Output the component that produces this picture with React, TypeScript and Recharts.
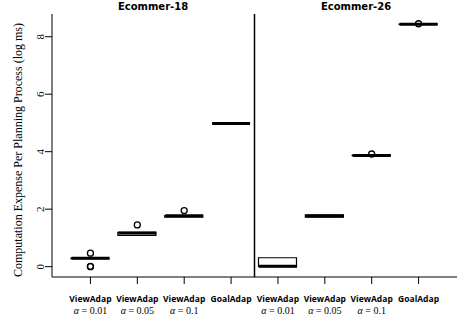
import { Bar, ComposedChart, ReferenceLine, Scatter, XAxis, YAxis } from 'recharts';

const categories = ['v18_001', 'v18_005', 'v18_01', 'g18', 'v26_001', 'v26_005', 'v26_01', 'g26'];
const methodLabels = ['ViewAdap', 'ViewAdap', 'ViewAdap', 'GoalAdap', 'ViewAdap', 'ViewAdap', 'ViewAdap', 'GoalAdap'];
const alphaLabels = ['0.01', '0.05', '0.1', '', '0.01', '0.05', '0.1', ''];
const panelTitles = ['Ecommer-18', 'Ecommer-26'];

// box stats (log ms)
const q1 = [0.28, 1.09, 1.72, 4.98, 0.0, 1.72, 3.86, 8.43];
const median = [0.29, 1.17, 1.77, 4.98, 0.01, 1.76, 3.87, 8.43];
const q3 = [0.3, 1.19, 1.78, 4.98, 0.31, 1.8, 3.88, 8.44];

// outliers, up to three per box (null = none)
const outlierA = [0.47, 1.45, 1.95, null, null, null, 3.92, 8.45];
const outlierB = [0.0, null, null, null, null, null, null, null];
const outlierC = [0.01, null, null, null, null, null, null, null];

const yTicks = [0, 2, 4, 6, 8];
const yLabel = 'Computation Expense Per Planning Process (log ms)';

const rows = categories.map((cat, i) => ({
  cat,
  box: [q1[i], q3[i]],
  med: median[i],
  oa: outlierA[i],
  ob: outlierB[i],
  oc: outlierC[i],
}));

const XTick = (props: any) => {
  const { x, y, payload } = props;
  const i = categories.indexOf(payload.value);
  return (
    <g transform={`translate(${x},${y})`}>
      <text y={16} textAnchor="middle" fontFamily="Open Sans" fontWeight="bold" fontSize={8.5} fill="#000">
        {methodLabels[i]}
      </text>
      {alphaLabels[i] && (
        <text y={28} textAnchor="middle" fontFamily="Liberation Serif" fontSize={10} fill="#000">
          <tspan fontStyle="italic">α</tspan> = {alphaLabels[i]}
        </text>
      )}
    </g>
  );
};

const YTick = (props: any) => {
  const { x, y, payload } = props;
  return (
    <text transform={`translate(${x},${y}) rotate(-90)`} textAnchor="middle" fontFamily="Liberation Serif" fontSize={11} fill="#000">
      {payload.value}
    </text>
  );
};

const MedianLine = (props: any) => (
  <line x1={props.cx - 19} x2={props.cx + 19} y1={props.cy} y2={props.cy} stroke="#000" strokeWidth={3} />
);

const Outlier = (props: any) => {
  const v = props.payload ? props.payload[props.field] : null;
  if (v == null || !Number.isFinite(props.cy)) return <g />;
  return <circle cx={props.cx} cy={props.cy} r={3} fill="none" stroke="#000" strokeWidth={1.3} />;
};

export default function App() {
  return (
    <div style={{ position: 'absolute', left: 0, top: 0, width: 470, height: 321, background: '#fff' }}>
      <ComposedChart width={470} height={321} data={rows} margin={{ top: 14, right: 13, bottom: 0, left: 0 }}>
        <XAxis
          dataKey="cat"
          interval={0}
          height={44}
          padding={{ left: 15, right: 15 }}
          tickSize={7}
          tickMargin={2}
          tickLine={{ stroke: '#000' }}
          axisLine={{ stroke: '#000' }}
          tick={<XTick />}
        />
        <XAxis xAxisId="top" orientation="top" dataKey="cat" height={0} tick={false} tickLine={false} axisLine={{ stroke: '#000' }} />
        <YAxis
          domain={[-0.36, 8.79]}
          ticks={yTicks}
          allowDataOverflow
          width={52}
          tickSize={7}
          tickMargin={1}
          tickLine={{ stroke: '#000' }}
          axisLine={{ stroke: '#000' }}
          tick={<YTick />}
        />
        <YAxis yAxisId="right" orientation="right" domain={[-0.36, 8.79]} width={0} tick={false} tickLine={false} axisLine={{ stroke: '#000' }} />
        <ReferenceLine x="g18" position="end" stroke="#000" strokeWidth={1.5} />
        <Bar dataKey="box" barSize={38} fill="#fff" stroke="#000" strokeWidth={1.2} isAnimationActive={false} />
        <Scatter dataKey="med" shape={<MedianLine />} isAnimationActive={false} />
        <Scatter dataKey="oa" shape={<Outlier field="oa" />} isAnimationActive={false} />
        <Scatter dataKey="ob" shape={<Outlier field="ob" />} isAnimationActive={false} />
        <Scatter dataKey="oc" shape={<Outlier field="oc" />} isAnimationActive={false} />
      </ComposedChart>
      {panelTitles.map((t, i) => (
        <div
          key={t}
          style={{
            position: 'absolute',
            top: 0,
            left: i === 0 ? 153 : 356,
            transform: 'translateX(-50%)',
            fontFamily: 'DejaVu Sans',
            fontWeight: 'bold',
            fontSize: 10,
            lineHeight: '13px',
            whiteSpace: 'nowrap',
          }}
        >
          {t}
        </div>
      ))}
      <div
        style={{
          position: 'absolute',
          left: 18,
          top: 150,
          transform: 'translate(-50%,-50%) rotate(-90deg)',
          fontFamily: 'Liberation Serif',
          fontSize: 12,
          whiteSpace: 'nowrap',
        }}
      >
        {yLabel}
      </div>
    </div>
  );
}
